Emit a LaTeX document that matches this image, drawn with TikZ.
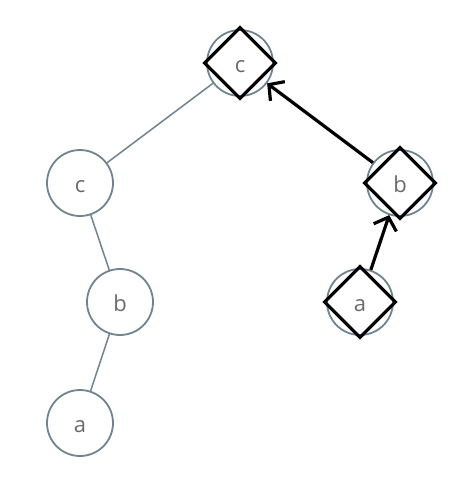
\documentclass[tikz,border=0pt]{standalone}
\usepackage{fontspec}
\setmainfont{Open Sans}
\usetikzlibrary{arrows.meta,shapes.geometric}
\definecolor{edgec}{HTML}{6E8591}
\definecolor{txtc}{HTML}{6A6A6A}
\tikzset{
  vert/.style={circle,draw=edgec,line width=1.8pt,minimum size=66pt,inner sep=0pt,text=txtc,font=\fontsize{22}{22}\selectfont,text height=19pt,text depth=0pt},
  mark box/.style={diamond,draw=black,line width=3.2pt,minimum size=72pt,inner sep=0pt},
  treeedge/.style={draw=edgec,line width=1.5pt},
  ptr/.style={draw=black,line width=3.2pt,-{Straight Barb[length=11pt,width=24pt,line width=3.2pt]}}
}
\begin{document}
\begin{tikzpicture}[x=1pt,y=-1pt]
\useasboundingbox (0,0) rectangle (468,490);
\node[vert] (c0) at (240,63) {c};
\node[vert] (c1) at (80,183) {c};
\node[vert] (b1) at (120,302) {b};
\node[vert] (a1) at (80,423) {a};
\node[vert] (b2) at (400,183) {b};
\node[vert] (a2) at (360,302) {a};
\node[mark box] (dc) at (c0) {};
\node[mark box] (db) at (b2) {};
\node[mark box] (da) at (a2) {};
\draw[treeedge] (c0) -- (c1);
\draw[treeedge] (c1) -- (b1);
\draw[treeedge] (b1) -- (a1);
\draw[ptr] (b2) -- (c0);
\draw[ptr] (a2) -- (b2);
\end{tikzpicture}
\end{document}
